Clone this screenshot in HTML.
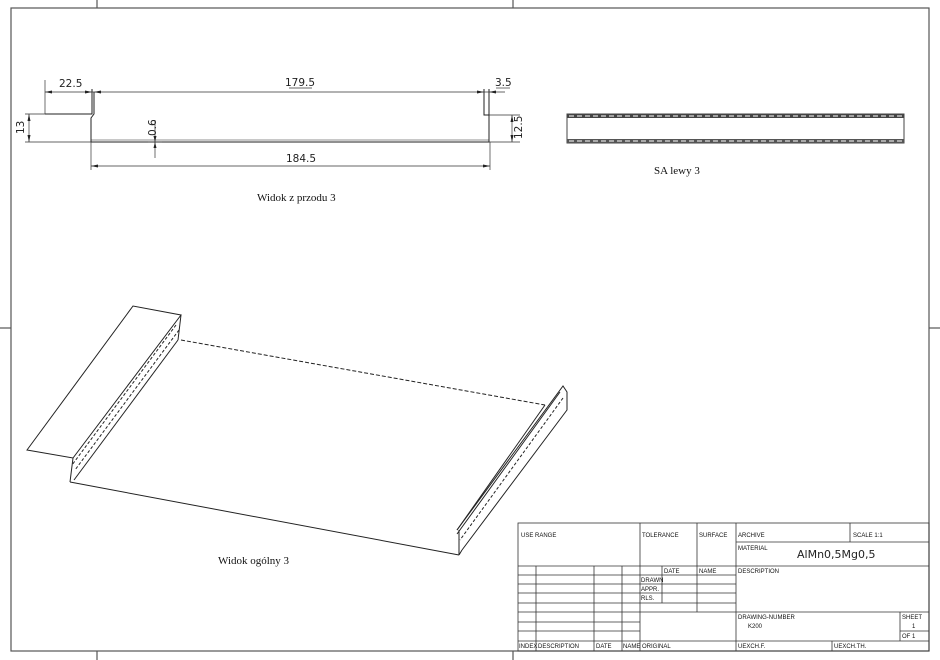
<!DOCTYPE html>
<html><head><meta charset="utf-8"><style>
html,body{margin:0;padding:0;background:#fff;}
svg{display:block;}
.t{font-family:"Liberation Sans",sans-serif;font-size:6px;fill:#111;}
.d{font-family:"DejaVu Sans","Liberation Sans",sans-serif;font-size:10.5px;fill:#222;}
.c{font-family:"Liberation Serif",serif;font-size:11px;fill:#111;}
</style></head><body>
<svg width="940" height="660" viewBox="0 0 940 660" xmlns="http://www.w3.org/2000/svg">
<g stroke="#555" stroke-width="1.2" fill="none">
<rect x="11" y="8" width="918" height="643"/>
<line x1="97" y1="0" x2="97" y2="8"/><line x1="513" y1="0" x2="513" y2="8"/>
<line x1="97" y1="651" x2="97" y2="660"/><line x1="513" y1="651" x2="513" y2="660"/>
<line x1="0" y1="328" x2="11" y2="328"/><line x1="929" y1="328" x2="940" y2="328"/>
</g>
<!-- front view -->
<g stroke="#222" stroke-width="1" fill="none">
<polyline points="45,114 92,114 92,89"/>
<polyline points="94,92 94,114 91,118 91,142 489,142 489,115 484,115 484,89"/>
<line x1="489" y1="115" x2="489" y2="89"/>
<line x1="91" y1="140" x2="489" y2="140" stroke-width="0.6"/>
</g>
<g stroke="#333" stroke-width="0.7" fill="none">
<line x1="45" y1="80" x2="45" y2="114"/>
<line x1="45" y1="92" x2="505" y2="92"/>
<line x1="25" y1="114" x2="45" y2="114"/><line x1="25" y1="142" x2="91" y2="142"/>
<line x1="29" y1="114" x2="29" y2="142"/>
<line x1="91" y1="142" x2="91" y2="170"/><line x1="490" y1="142" x2="490" y2="170"/>
<line x1="91" y1="166" x2="490" y2="166"/>
<line x1="155" y1="120" x2="155" y2="158"/><line x1="148" y1="142" x2="162" y2="142"/>
<line x1="489" y1="115" x2="520" y2="115"/><line x1="489" y1="142" x2="520" y2="142"/>
<line x1="512" y1="115" x2="512" y2="142"/>
<line x1="289" y1="88" x2="312" y2="88"/><line x1="496" y1="88" x2="510" y2="88"/>
</g>
<g fill="#222">
<polygon points="45,92 52,90.5 52,93.5"/><polygon points="92,92 85,90.5 85,93.5"/>
<polygon points="94,92 101,90.5 101,93.5"/>
<polygon points="484,92 477,90.5 477,93.5"/><polygon points="489,92 496,90.5 496,93.5"/>
<polygon points="29,114 27.5,121 30.5,121"/><polygon points="29,142 27.5,135 30.5,135"/>
<polygon points="91,166 98,164.5 98,167.5"/><polygon points="490,166 483,164.5 483,167.5"/>
<polygon points="512,115 510.5,122 513.5,122"/><polygon points="512,142 510.5,135 513.5,135"/>
<polygon points="155,142 153.5,136 156.5,136"/><polygon points="155,142 153.5,148 156.5,148"/>
</g>
<text class="d" x="59" y="87">22.5</text>
<text class="d" x="285" y="86">179.5</text>
<text class="d" x="495" y="86">3.5</text>
<text class="d" x="286" y="162">184.5</text>
<text class="d" transform="translate(24,134) rotate(-90)">13</text>
<text class="d" transform="translate(156,136) rotate(-90)">0.6</text>
<text class="d" transform="translate(522,139) rotate(-90)">12.5</text>
<text class="c" x="257" y="201">Widok z przodu 3</text>
<!-- SA lewy -->
<rect x="567" y="114" width="337" height="29" fill="none" stroke="#444" stroke-width="1"/>
<rect x="567" y="114" width="337" height="4" fill="#444"/>
<rect x="567" y="139" width="337" height="4" fill="#555"/>
<line x1="569" y1="116" x2="902" y2="116" stroke="#fff" stroke-width="1" stroke-dasharray="5,3"/>
<line x1="569" y1="141" x2="902" y2="141" stroke="#fff" stroke-width="1" stroke-dasharray="5,3"/>
<text class="c" x="654" y="174">SA lewy 3</text>
<!-- iso view -->
<g stroke="#222" stroke-width="1" fill="none">
<polygon points="27,450 133,306 181,315 73,458"/>
<line x1="73" y1="458" x2="70" y2="482"/>
<line x1="70" y1="482" x2="459" y2="555"/>
<line x1="181" y1="315" x2="178" y2="340"/>
<line x1="178" y1="340" x2="74" y2="480"/>
<line x1="176" y1="325" x2="72" y2="465" stroke-dasharray="3,2"/>
<line x1="179" y1="330" x2="75" y2="470" stroke-dasharray="3,2"/>
<line x1="181" y1="340" x2="545" y2="405" stroke-dasharray="4,2"/>
<line x1="545" y1="405" x2="457" y2="530"/>
<polyline points="457,530 563,386 567,392 567,410 462,550"/>
<line x1="560" y1="392" x2="457" y2="534"/>
<line x1="563" y1="398" x2="460" y2="540" stroke-dasharray="3,2"/>
<line x1="459" y1="530" x2="459" y2="555"/>
<line x1="462" y1="550" x2="459" y2="555"/>
</g>
<text class="c" x="218" y="564">Widok ogólny 3</text>
<!-- title block -->
<g stroke="#333" stroke-width="0.8" fill="none">
<rect x="518" y="523" width="411" height="128"/>
<line x1="640" y1="523" x2="640" y2="651"/>
<line x1="697" y1="523" x2="697" y2="612"/>
<line x1="736" y1="523" x2="736" y2="651"/>
<line x1="850" y1="523" x2="850" y2="542"/>
<line x1="736" y1="542" x2="929" y2="542"/>
<line x1="518" y1="566" x2="929" y2="566"/>
<line x1="518" y1="575" x2="736" y2="575"/>
<line x1="518" y1="584" x2="736" y2="584"/>
<line x1="518" y1="593" x2="736" y2="593"/>
<line x1="518" y1="603" x2="736" y2="603"/>
<line x1="518" y1="612" x2="929" y2="612"/>
<line x1="518" y1="622" x2="640" y2="622"/>
<line x1="518" y1="631" x2="640" y2="631"/>
<line x1="900" y1="631" x2="929" y2="631"/>
<line x1="518" y1="641" x2="929" y2="641"/>
<line x1="536" y1="566" x2="536" y2="651"/>
<line x1="594" y1="566" x2="594" y2="651"/>
<line x1="622" y1="566" x2="622" y2="651"/>
<line x1="662" y1="566" x2="662" y2="603"/>
<line x1="900" y1="612" x2="900" y2="641"/>
<line x1="832" y1="641" x2="832" y2="651"/>
</g>
<text class="t" x="521" y="537">USE RANGE</text>
<text class="t" x="642" y="537">TOLERANCE</text>
<text class="t" x="699" y="537">SURFACE</text>
<text class="t" x="738" y="537">ARCHIVE</text>
<text class="t" x="853" y="537">SCALE  1:1</text>
<text class="t" x="738" y="550">MATERIAL</text>
<text x="797" y="558" style="font-family:'DejaVu Sans',sans-serif;font-size:11px;fill:#222">AlMn0,5Mg0,5</text>
<text class="t" x="664" y="573">DATE</text>
<text class="t" x="699" y="573">NAME</text>
<text class="t" x="738" y="573">DESCRIPTION</text>
<text class="t" x="641" y="582">DRAWN</text>
<text class="t" x="641" y="591">APPR.</text>
<text class="t" x="641" y="600">RLS.</text>
<text class="t" x="738" y="619">DRAWING-NUMBER</text>
<text class="t" x="748" y="628">K200</text>
<text class="t" x="902" y="619">SHEET</text>
<text class="t" x="912" y="628">1</text>
<text class="t" x="902" y="638">OF 1</text>
<text class="t" x="519" y="648">INDEX</text>
<text class="t" x="538" y="648">DESCRIPTION</text>
<text class="t" x="596" y="648">DATE</text>
<text class="t" x="623" y="648">NAME</text>
<text class="t" x="642" y="648">ORIGINAL</text>
<text class="t" x="738" y="648">UEXCH.F.</text>
<text class="t" x="834" y="648">UEXCH.TH.</text>
</svg>
</body></html>
